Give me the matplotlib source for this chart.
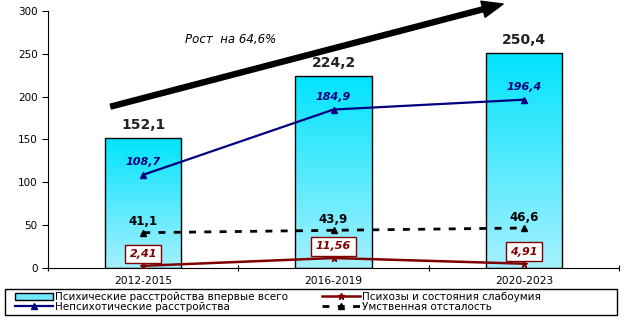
import numpy as np
import matplotlib.pyplot as plt
from matplotlib.colors import LinearSegmentedColormap

plt.rcParams['font.family'] = ['DejaVu Sans']

# ---- Данные ----
periods = ['2012-2015', '2016-2019', '2020-2023']
total = [152.1, 224.2, 250.4]          # Психические расстройства впервые всего
nonpsych = [108.7, 184.9, 196.4]       # Непсихотические расстройства
psychoses = [2.41, 11.56, 4.91]        # Психозы и состояния слабоумия
retard = [41.1, 43.9, 46.6]            # Умственная отсталость

fmt = lambda v: f"{v}".replace('.', ',')

fig = plt.figure(figsize=(6.24, 3.22), dpi=100)
ax = fig.add_axes([0.077, 0.168, 0.915, 0.798])
x = np.arange(len(periods))

# ---- Столбцы с градиентом ----
cmap = LinearSegmentedColormap.from_list('cy', ['#a6f0ff', '#00e4fc'])
grad = np.linspace(0, 1, 256).reshape(-1, 1)
bars = ax.bar(x, total, width=0.4, color='none', edgecolor='black', linewidth=1, zorder=2)
for b in bars:
    im = ax.imshow(grad, cmap=cmap, origin='lower', aspect='auto', zorder=1,
                   extent=[b.get_x(), b.get_x() + b.get_width(), 0, b.get_height()])
    im.set_clip_path(b)
proxy_bar = plt.Rectangle((0, 0), 1, 1, facecolor='#6fe9fb', edgecolor='black')

# ---- Линии ----
l1, = ax.plot(x, nonpsych, color='#000080', lw=1.6, marker='^', ms=4, zorder=3)
l2, = ax.plot(x, psychoses, color='#800000', lw=1.8, marker='*', ms=5, zorder=3)
l3, = ax.plot(x, retard, color='black', lw=2, ls=(0, (2.5, 3)), marker='^', ms=4, zorder=3)

for i in x:
    ax.text(i, total[i] + 7, fmt(total[i]), ha='center', va='bottom',
            fontsize=10, fontweight='bold', color='#222222')
    ax.text(i, nonpsych[i] + 9, fmt(nonpsych[i]), ha='center', va='bottom',
            fontsize=8, fontweight='bold', style='italic', color='#000080')
    ax.text(i, retard[i] + 5, fmt(retard[i]), ha='center', va='bottom',
            fontsize=8.5, fontweight='bold', color='black')
    ax.text(i, psychoses[i] + 8, fmt(psychoses[i]),
            ha='center', va='bottom', fontsize=8, fontweight='bold', style='italic',
            color='#800000',
            bbox=dict(boxstyle='square,pad=0.4', facecolor='white', edgecolor='#800000', lw=1))

# ---- Стрелка роста ----
ax.annotate('', xy=(0.797, 1.027), xytext=(0.11, 0.628), xycoords='axes fraction',
            textcoords='axes fraction', annotation_clip=False,
            arrowprops=dict(facecolor='black', edgecolor='black', width=3.6,
                            headwidth=12, headlength=15, shrink=0))
ax.text(0.32, 0.888, 'Рост  на 64,6%', transform=ax.transAxes, ha='center', va='center',
        fontsize=8.5, style='italic')

ax.set_xlim(-0.5, 2.5)
ax.set_ylim(0, 300)
ax.set_yticks(range(0, 301, 50))
ax.set_xticks([-0.5, 0.5, 1.5, 2.5])
ax.set_xticklabels([])
ax.set_xticks(x, minor=True)
ax.set_xticklabels(periods, minor=True)
ax.tick_params(axis='x', which='minor', length=0, labelsize=7.7, pad=6)
ax.tick_params(axis='x', which='major', length=5, direction='inout')
ax.tick_params(axis='y', labelsize=7.5, length=4)
ax.spines['top'].set_visible(False)
ax.spines['right'].set_visible(False)

# ---- Легенда ----
frame = plt.Rectangle((5 / 624, 1 - 315 / 322), 612 / 624, 26 / 322, transform=fig.transFigure,
                      facecolor='white', edgecolor='black', lw=1)
fig.add_artist(frame)
kw = dict(loc='center left', fontsize=7.5, frameon=False, borderpad=0, labelspacing=0.0,
          handlelength=3.6, handletextpad=0.25, borderaxespad=0)
leg1 = fig.legend([proxy_bar, l1], ['Психические расстройства впервые всего',
                                     'Непсихотические расстройства'],
                  bbox_to_anchor=(15 / 624, 1 - 302 / 322), **kw)
leg2 = fig.legend([l2, l3], ['Психозы и состояния слабоумия', 'Умственная отсталость'],
                  bbox_to_anchor=(322 / 624, 1 - 302 / 322), **kw)

fig.savefig('out.png', dpi=100)
